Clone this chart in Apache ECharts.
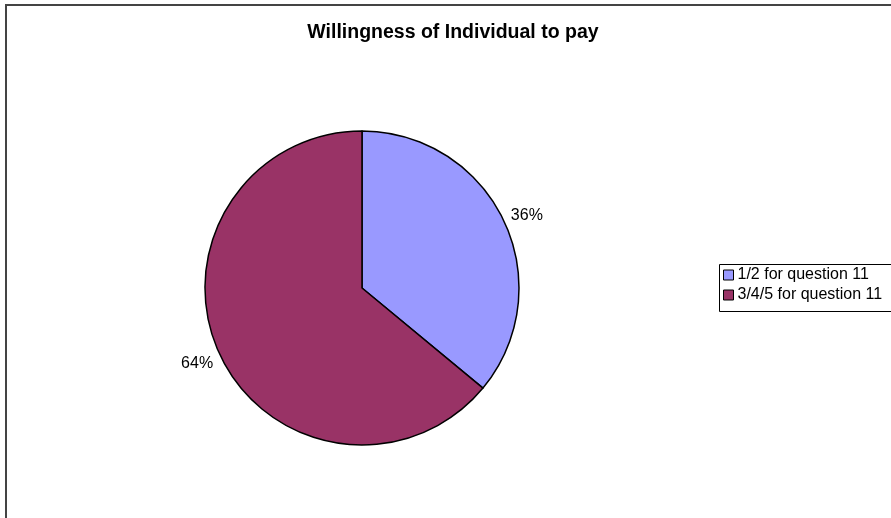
<!DOCTYPE html>
<html>
<head>
<meta charset="utf-8">
<script src="https://cdn.jsdelivr.net/npm/echarts@6/dist/echarts.min.js"></script>
<style>html,body{margin:0;padding:0;background:#fff;}#c{width:891px;height:518px;}</style>
</head>
<body>
<div id="c"></div>
<script>
const categories = ['1/2 for question 11', '3/4/5 for question 11'];
const values = [36, 64];
const colors = ['#9999FF', '#993366'];

const chart = echarts.init(document.getElementById('c'), null, {renderer: 'canvas'});
chart.setOption({
  animation: false,
  backgroundColor: '#ffffff',
  title: {
    text: 'Willingness of Individual to pay',
    left: 453, top: 23, textAlign: 'center', padding: 0,
    textStyle: {fontFamily: 'Liberation Sans, Arial', fontSize: 19.5, fontWeight: 'bold', color: '#000'}
  },
  graphic: [
    {type: 'rect', shape: {x: 6, y: 5, width: 900, height: 530}, style: {fill: 'none', stroke: '#444', lineWidth: 2}, z: -1},
    {type: 'rect', shape: {x: 719.5, y: 264.5, width: 200, height: 47}, style: {fill: '#fff', stroke: '#000', lineWidth: 1}, z: 0}
  ],
  legend: {
    orient: 'vertical', left: 723, top: 267, padding: 0,
    itemWidth: 10, itemHeight: 10, itemGap: 4,
    icon: 'rect',
    textStyle: {fontFamily: 'Liberation Sans, Arial', fontSize: 16, color: '#000', padding: [0, 0, 0, -1]},
    itemStyle: {borderColor: '#000', borderWidth: 1},
    data: categories
  },
  series: [{
    type: 'pie',
    center: [362, 288],
    radius: 157,
    startAngle: 90,
    clockwise: true,
    color: colors,
    itemStyle: {borderColor: '#000', borderWidth: 1.5},
    label: {
      show: true, position: 'outside',
      formatter: '{d}%',
      fontFamily: 'Liberation Sans, Arial', fontSize: 16, color: '#000'
    },
    labelLine: {show: false, length: 2, length2: 0},
    emphasis: {disabled: true},
    data: categories.map((c, i) => ({
      name: c, value: values[i],
      label: i === 0 ? {offset: [0, -5]} : {offset: [0, 8]}
    }))
  }]
});
</script>
</body>
</html>
